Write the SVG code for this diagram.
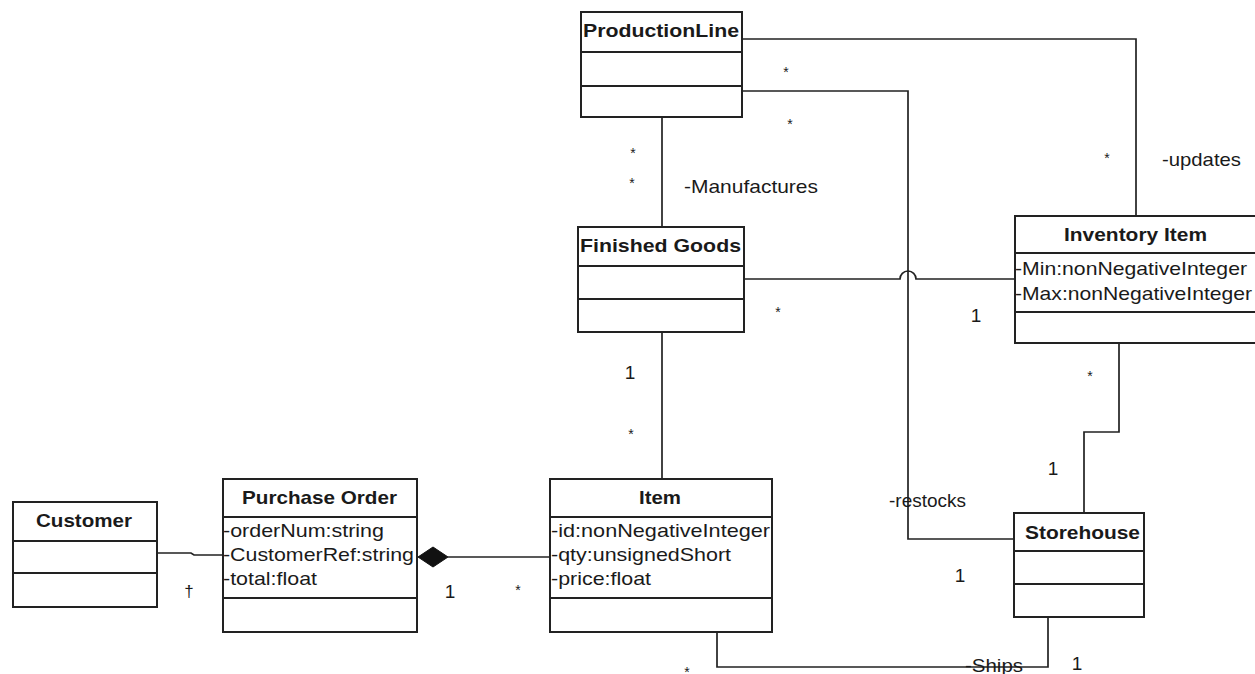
<svg xmlns="http://www.w3.org/2000/svg" width="1255" height="674" viewBox="0 0 1255 674">
<style>
  .box { fill: #ffffff; stroke: #222222; stroke-width: 2; }
  .div { stroke: #222222; stroke-width: 2; }
  .conn { fill: none; stroke: #222222; stroke-width: 1.7; }
  .title { font-family: "Liberation Sans", Arial, sans-serif; font-weight: bold; font-size: 19px; fill: #1a1a1a; }
  .attr { font-family: "Liberation Sans", Arial, sans-serif; font-size: 19px; fill: #1a1a1a; }
  .lbl { font-family: "Liberation Sans", Arial, sans-serif; font-size: 19px; fill: #1a1a1a; }
  .star { font-family: "Liberation Sans", Arial, sans-serif; font-size: 14px; fill: #1a1a1a; text-anchor: middle; }
  .one { font-family: "Liberation Sans", Arial, sans-serif; font-size: 19px; fill: #1a1a1a; text-anchor: middle; }
</style>
<rect width="1255" height="674" fill="#ffffff"/>

<g id="connectors">
  <polyline class="conn" points="742,39 1136,39 1136,216"/>
  <polyline class="conn" points="742,91 908,91 908,539 1014,539"/>
  <line class="conn" x1="662" y1="117" x2="662" y2="227"/>
  <path class="conn" d="M744,279 L900,279 A8,8 0 0 1 916,279 L1015,279"/>
  <line class="conn" x1="662" y1="332" x2="662" y2="479"/>
  <polyline class="conn" points="1119,343 1119,432 1084,432 1084,513"/>
  <polyline class="conn" points="717,632 717,667 1048,667 1048,617"/>
  <polyline class="conn" points="157,553 191,553 194,555 222,555"/>
  <line class="conn" x1="448" y1="557" x2="550" y2="557"/>
  <polygon points="418,557 433,547 448,557 433,567" fill="#111111" stroke="#111111" stroke-width="1"/>

  <text class="lbl" x="684" y="193" textLength="134" lengthAdjust="spacingAndGlyphs">-Manufactures</text>
  <text class="lbl" x="1162" y="166" textLength="79" lengthAdjust="spacingAndGlyphs">-updates</text>
  <text class="lbl" x="889" y="507" textLength="77" lengthAdjust="spacingAndGlyphs">-restocks</text>
  <text class="lbl" x="965" y="672" textLength="58" lengthAdjust="spacingAndGlyphs">-Ships</text>

  <text class="star" x="786" y="77">*</text>
  <text class="star" x="790" y="129">*</text>
  <text class="star" x="633" y="158">*</text>
  <text class="star" x="632" y="188">*</text>
  <text class="star" x="1107" y="163">*</text>
  <text class="star" x="778" y="317">*</text>
  <text class="star" x="631" y="439">*</text>
  <text class="star" x="1090" y="381">*</text>
  <text class="star" x="518" y="595">*</text>
  <text class="star" x="687" y="677">*</text>
  <text class="one" x="630" y="379">1</text>
  <text class="one" x="976" y="322">1</text>
  <text class="one" x="1053" y="475">1</text>
  <text class="one" x="960" y="582">1</text>
  <text class="one" x="450" y="598">1</text>
  <text class="one" x="1077" y="670">1</text>
  <text class="one" x="189" y="597" style="font-size:17px">†</text>
</g>

<g id="ProductionLine">
  <rect class="box" x="581" y="12" width="161" height="105"/>
  <line class="div" x1="581" y1="52" x2="742" y2="52"/>
  <line class="div" x1="581" y1="86" x2="742" y2="86"/>
  <text class="title" x="583" y="37" textLength="156" lengthAdjust="spacingAndGlyphs">ProductionLine</text>
</g>

<g id="FinishedGoods">
  <rect class="box" x="578" y="227" width="166" height="105"/>
  <line class="div" x1="578" y1="266" x2="744" y2="266"/>
  <line class="div" x1="578" y1="299" x2="744" y2="299"/>
  <text class="title" x="580" y="252" textLength="161" lengthAdjust="spacingAndGlyphs">Finished Goods</text>
</g>

<g id="InventoryItem">
  <rect class="box" x="1015" y="216" width="260" height="127"/>
  <line class="div" x1="1015" y1="253" x2="1275" y2="253"/>
  <line class="div" x1="1015" y1="312" x2="1275" y2="312"/>
  <text class="title" x="1064" y="241" textLength="143" lengthAdjust="spacingAndGlyphs">Inventory Item</text>
  <text class="attr" x="1015" y="275" textLength="232" lengthAdjust="spacingAndGlyphs">-Min:nonNegativeInteger</text>
  <text class="attr" x="1015" y="300" textLength="237" lengthAdjust="spacingAndGlyphs">-Max:nonNegativeInteger</text>
</g>

<g id="Customer">
  <rect class="box" x="13" y="502" width="144" height="105"/>
  <line class="div" x1="13" y1="541" x2="157" y2="541"/>
  <line class="div" x1="13" y1="573" x2="157" y2="573"/>
  <text class="title" x="36" y="527" textLength="96" lengthAdjust="spacingAndGlyphs">Customer</text>
</g>

<g id="PurchaseOrder">
  <rect class="box" x="223" y="479" width="194" height="153"/>
  <line class="div" x1="223" y1="517" x2="417" y2="517"/>
  <line class="div" x1="223" y1="598" x2="417" y2="598"/>
  <text class="title" x="242" y="504" textLength="155" lengthAdjust="spacingAndGlyphs">Purchase Order</text>
  <text class="attr" x="223" y="537" textLength="161" lengthAdjust="spacingAndGlyphs">-orderNum:string</text>
  <text class="attr" x="223" y="561" textLength="191" lengthAdjust="spacingAndGlyphs">-CustomerRef:string</text>
  <text class="attr" x="223" y="585" textLength="94" lengthAdjust="spacingAndGlyphs">-total:float</text>
</g>

<g id="Item">
  <rect class="box" x="550" y="479" width="222" height="153"/>
  <line class="div" x1="550" y1="517" x2="772" y2="517"/>
  <line class="div" x1="550" y1="598" x2="772" y2="598"/>
  <text class="title" x="639" y="504" textLength="42" lengthAdjust="spacingAndGlyphs">Item</text>
  <text class="attr" x="551" y="537" textLength="219" lengthAdjust="spacingAndGlyphs">-id:nonNegativeInteger</text>
  <text class="attr" x="551" y="561" textLength="180" lengthAdjust="spacingAndGlyphs">-qty:unsignedShort</text>
  <text class="attr" x="551" y="585" textLength="100" lengthAdjust="spacingAndGlyphs">-price:float</text>
</g>

<g id="Storehouse">
  <rect class="box" x="1014" y="513" width="130" height="104"/>
  <line class="div" x1="1014" y1="551" x2="1144" y2="551"/>
  <line class="div" x1="1014" y1="584" x2="1144" y2="584"/>
  <text class="title" x="1025" y="539" textLength="115" lengthAdjust="spacingAndGlyphs">Storehouse</text>
</g>
</svg>
